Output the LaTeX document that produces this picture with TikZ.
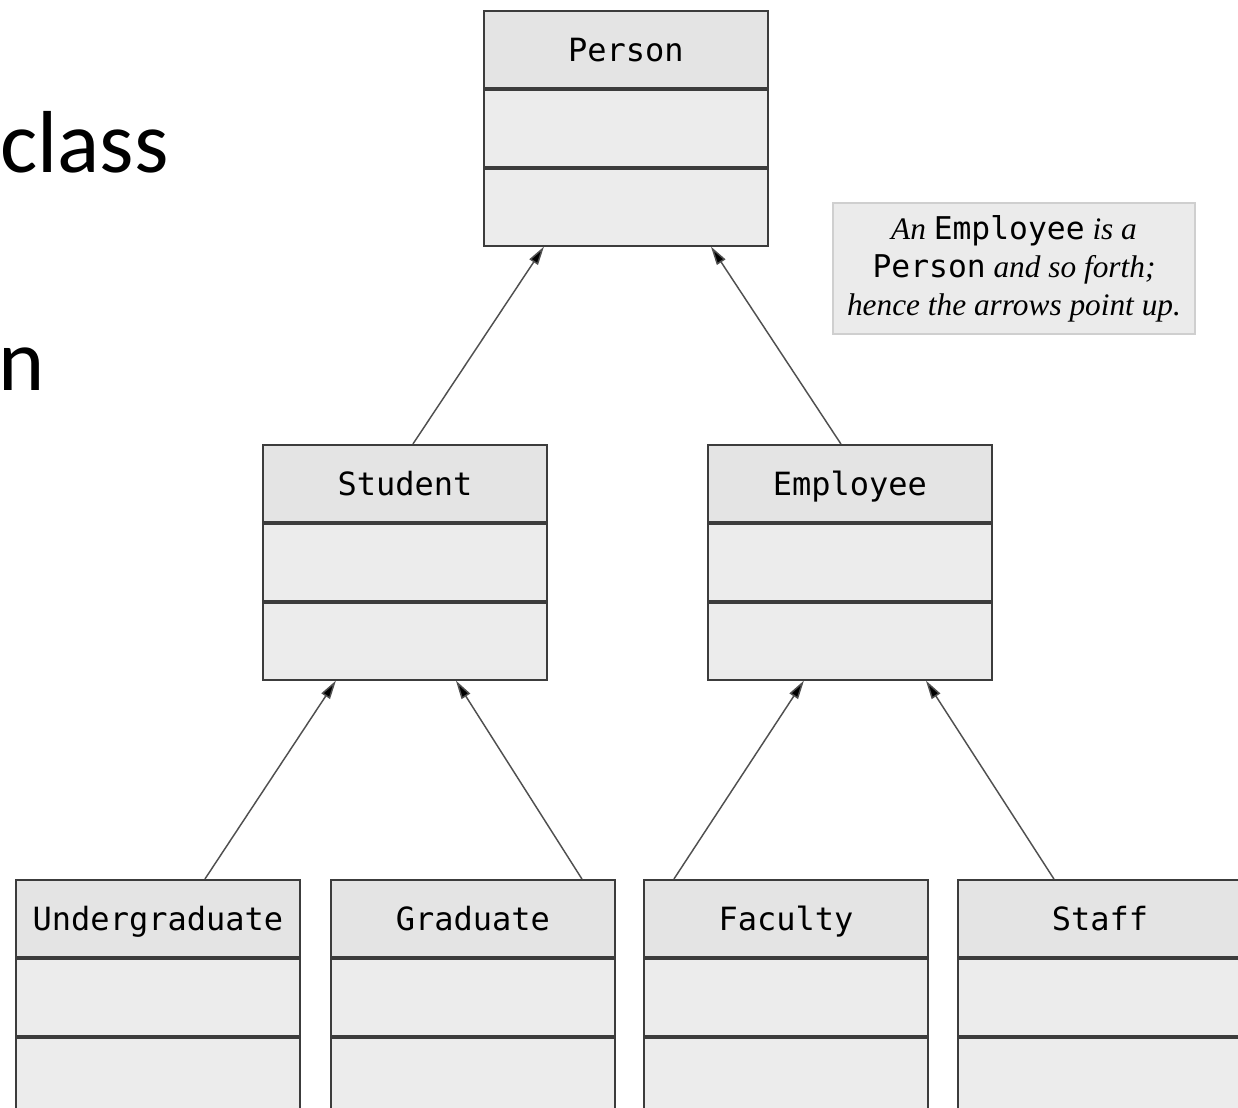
\documentclass[tikz,border=0pt]{standalone}
\usepackage{fontspec}
\setmainfont{Liberation Serif}
\newfontfamily\slidefont{Carlito}
\newfontfamily\monofont{DejaVu Sans Mono}
\usetikzlibrary{arrows.meta}
\def\px{0.75pt}
\definecolor{boxline}{HTML}{3C3C3C}
\definecolor{arrowline}{HTML}{505050}
\definecolor{headfill}{HTML}{E4E4E4}
\definecolor{compfill}{HTML}{ECECEC}
\definecolor{notefill}{HTML}{EBEBEB}
\definecolor{noteline}{HTML}{CFCFCF}
% one UML class: header with the name, then two empty compartments
\newcommand\umlclass[4]{%
  \node[clshead] (#1) at (#2,#3) {#4};
  \node[clscomp] (#1-a) at (#1.south) {};
  \node[clscomp] (#1-b) at (#1-a.south) {};
}
\begin{document}
\begin{tikzpicture}[x=0.75pt,y=-0.75pt,
  clshead/.style={draw=boxline, fill=headfill, line width=1.4pt,
    minimum width=284*\px, minimum height=77*\px, inner sep=0pt,
    text height=20pt, text depth=2pt,
    anchor=north west, font=\monofont\fontsize{24}{28}\selectfont},
  clscomp/.style={draw=boxline, fill=compfill, line width=1.4pt,
    minimum width=284*\px, minimum height=77*\px, inner sep=0pt,
    anchor=north},
  isa/.style={draw=arrowline, line width=1.1pt,
    -{Triangle[length=14pt,width=7.5pt,fill=black]}},
  slide/.style={anchor=base west, inner sep=0pt,
    font=\slidefont\fontsize{66}{70}\selectfont}]
\clip (0,0) rectangle (1238,1107);
\fill[white] (0,0) rectangle (1238,1107);

% leftover slide text
\node[slide] (cls) at (0,172) {class};
\node[slide] (nn) at (-2,390) {n};

% classes
\umlclass{person}{483}{10}{Person}
\umlclass{student}{262}{444}{Student}
\umlclass{employee}{707}{444}{Employee}
\umlclass{undergrad}{15}{879}{Undergraduate}
\umlclass{graduate}{330}{879}{Graduate}
\umlclass{faculty}{643}{879}{Faculty}
\umlclass{staff}{957}{879}{Staff}

% generalisation arrows
\draw[isa] ([xshift=8*\px]student.north) -- ([xshift=-82*\px]person-b.south);
\draw[isa] ([xshift=-9*\px]employee.north) -- ([xshift=85*\px]person-b.south);
\draw[isa] ([xshift=47*\px]undergrad.north) -- ([xshift=-69*\px]student-b.south);
\draw[isa] ([xshift=109*\px]graduate.north) -- ([xshift=51*\px]student-b.south);
\draw[isa] ([xshift=-112*\px]faculty.north) -- ([xshift=-46*\px]employee-b.south);
\draw[isa] ([xshift=-46*\px]staff.north) -- ([xshift=76*\px]employee-b.south);

% note
\node[draw=noteline, fill=notefill, line width=0.8pt,
  minimum width=362*\px, minimum height=131*\px, inner sep=0pt,
  align=center, font=\fontsize{23.5}{28.5}\selectfont]
  (note) at (1014,268.5)
  {\textit{An} {\monofont Employee} \textit{is a}\\
   {\monofont Person} \textit{and so forth;}\\
   \textit{hence the arrows point up.}};
\end{tikzpicture}
\end{document}
